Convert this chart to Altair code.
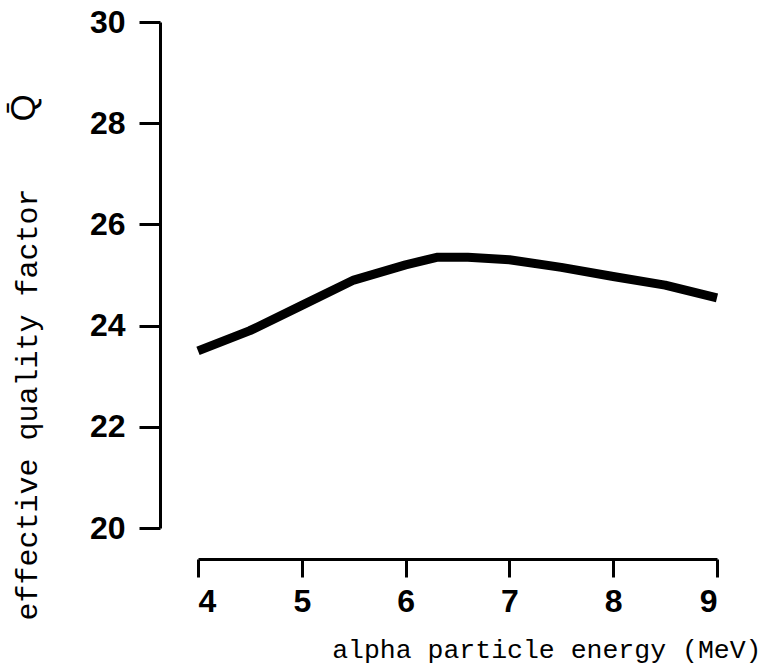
import altair as alt
import pandas as pd

energy = [4.0, 4.5, 5.0, 5.5, 6.0, 6.3, 6.6, 7.0, 7.5, 8.0, 8.5, 9.0]
q_eff = [23.5, 23.9, 24.4, 24.9, 25.2, 25.35, 25.35, 25.3, 25.15, 24.97, 24.8, 24.55]
y_ticks = [20, 22, 24, 26, 28, 30]
x_ticks = [4, 5, 6, 7, 8, 9]

df = pd.DataFrame({"energy": energy, "q": q_eff})

W, H = 519, 506

line = alt.Chart(df).mark_line(color="black", strokeWidth=9, strokeCap="butt", strokeJoin="round").encode(
    x=alt.X("energy:Q", scale=alt.Scale(domain=[4, 9], nice=False, zero=False),
            axis=alt.Axis(values=x_ticks, title="alpha particle energy (MeV)", offset=31,
                          tickSize=18, tickWidth=3, domainWidth=3, domainColor="black", tickColor="black",
                          labelFont="Liberation Sans", labelFontWeight="bold", labelFontSize=32,
                          labelColor="black", labelPadding=9, grid=False,
                          titleFont="Liberation Mono", titleFontSize=26.5, titleFontWeight="normal",
                          titleColor="black", titleAnchor="end", titleAlign="right",
                          titleX=563, titleY=98, titleBaseline="alphabetic")),
    y=alt.Y("q:Q", scale=alt.Scale(domain=[20, 30], nice=False, zero=False),
            axis=alt.Axis(values=y_ticks, title="effective quality factor", offset=38,
                          tickSize=21, tickWidth=3, domainWidth=3, domainColor="black", tickColor="black",
                          labelFont="Liberation Sans", labelFontWeight="bold", labelFontSize=32,
                          labelColor="black", labelPadding=14, grid=False,
                          titleFont="Liberation Mono", titleFontSize=30, titleFontWeight="normal",
                          titleColor="black", titleAnchor="start", titleAngle=270,
                          titleX=-133, titleY=598, titleBaseline="middle", titleAlign="left")),
)

qbar = alt.Chart(pd.DataFrame({"t": ["Q\u0304"]})).mark_text(
    angle=270, font="Liberation Sans", fontSize=35, color="black", baseline="middle", align="center"
).encode(text="t:N", x=alt.value(-174), y=alt.value(86))

chart = alt.layer(line, qbar).properties(
    width=W, height=H,
    autosize=alt.AutoSizeParams(type="none"),
    padding={"left": 198, "top": 22, "right": 45, "bottom": 140},
    background="white",
).configure_view(strokeWidth=0, stroke="transparent")

chart.save("out.html", embed_options={"renderer": "svg", "actions": False})
